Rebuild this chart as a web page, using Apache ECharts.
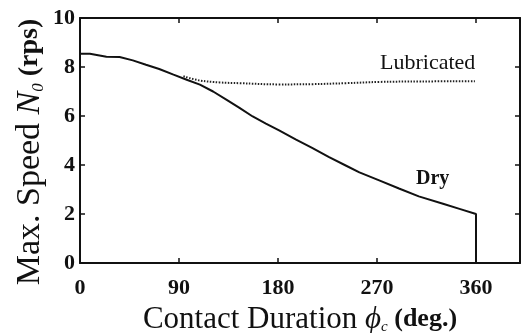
<!DOCTYPE html>
<html>
<head>
<meta charset="utf-8">
<script src="https://cdn.jsdelivr.net/npm/echarts@6/dist/echarts.min.js"></script>
<style>
  html, body { margin: 0; padding: 0; background: #fff; }
  #chart { width: 521px; height: 333px; }
</style>
</head>
<body>
<div id="chart"></div>
<script>
// contact duration (deg.) vs max speed (rps)
const dryX = [0, 9, 24, 36, 48, 60, 72, 85, 97, 109, 121, 133, 145, 157, 169, 181, 196, 211, 226, 242, 254, 272, 290, 308, 330, 345, 360, 360];
const dryY = [8.54, 8.54, 8.42, 8.41, 8.27, 8.09, 7.92, 7.69, 7.48, 7.28, 7.00, 6.67, 6.33, 5.98, 5.69, 5.41, 5.05, 4.70, 4.33, 3.97, 3.70, 3.37, 3.04, 2.72, 2.42, 2.21, 2.0, 0];
const lubX = [94, 109, 127, 145, 181, 211, 242, 272, 310, 359];
const lubY = [7.62, 7.45, 7.37, 7.34, 7.29, 7.30, 7.34, 7.39, 7.41, 7.42];
const xTicks = [0, 90, 180, 270, 360];
const yTicks = [0, 2, 4, 6, 8, 10];

const FONT = "'Liberation Serif', 'DejaVu Serif', serif";
const pair = (xs, ys) => xs.map((x, i) => [x, ys[i]]);

const chart = echarts.init(document.getElementById('chart'));

function tick() {
  return { show: true, inside: true, length: 5, lineStyle: { color: '#111', width: 1.5 } };
}
function axLine() {
  return { show: true, onZero: false, lineStyle: { color: '#111', width: 2 } };
}

chart.setOption({
  animation: false,
  grid: { left: 80, top: 18, width: 440, height: 245, outerBoundsMode: 'none' },
  xAxis: [
    {
      type: 'value', min: 0, max: 400, interval: 90,
      axisLine: axLine(),
      axisTick: tick(),
      splitLine: { show: false },
      axisLabel: {
        showMaxLabel: false, margin: 14,
        color: '#111', fontFamily: FONT, fontSize: 22, fontWeight: 'bold'
      },
      name: '{t|Contact Duration }{v|ϕ}{s|c}{u| (deg.)}',
      nameLocation: 'middle', nameGap: 34,
      nameTextStyle: {
        rich: {
          t: { fontFamily: FONT, fontSize: 31, color: '#111' },
          v: { fontFamily: FONT, fontSize: 31, fontStyle: 'italic', color: '#111' },
          s: { fontFamily: FONT, fontSize: 15, fontStyle: 'italic', color: '#111', verticalAlign: 'bottom', padding: [10, 0, 0, 0] },
          u: { fontFamily: FONT, fontSize: 26, fontWeight: 'bold', color: '#111' }
        }
      }
    },
    {
      type: 'value', min: 0, max: 400, interval: 90, position: 'top',
      axisLine: axLine(),
      axisTick: tick(),
      axisLabel: { show: false },
      splitLine: { show: false }
    }
  ],
  yAxis: [
    {
      type: 'value', min: 0, max: 10, interval: 2,
      axisLine: axLine(),
      axisTick: tick(),
      splitLine: { show: false },
      axisLabel: {
        margin: 5,
        color: '#111', fontFamily: FONT, fontSize: 22, fontWeight: 'bold'
      }
    },
    {
      type: 'value', min: 0, max: 10, interval: 2, position: 'right',
      axisLine: axLine(),
      axisTick: tick(),
      axisLabel: { show: false },
      splitLine: { show: false }
    }
  ],
  series: [
    {
      name: 'Dry', type: 'line', data: pair(dryX, dryY),
      showSymbol: false,
      lineStyle: { color: '#111', width: 2 }
    },
    {
      name: 'Lubricated', type: 'line', data: pair(lubX, lubY),
      smooth: 0.4, showSymbol: false,
      lineStyle: { color: '#222', width: 2, type: [1.5, 1.5] }
    }
  ],
  graphic: [
    {
      // y axis title, placed by hand so it sits a bit below the plot centre like the original
      type: 'text', x: 30, y: 152, rotation: Math.PI / 2,
      style: {
        text: '{t|Max. Speed }{v|N}{s|0}{u| (rps)}',
        align: 'center', verticalAlign: 'middle',
        rich: {
          t: { fontFamily: FONT, fontSize: 34, fill: '#111' },
          v: { fontFamily: FONT, fontSize: 34, fontStyle: 'italic', fill: '#111' },
          s: { fontFamily: FONT, fontSize: 17, fontStyle: 'italic', fill: '#111', verticalAlign: 'bottom', padding: [12, 0, 0, 0] },
          u: { fontFamily: FONT, fontSize: 28, fontWeight: 'bold', fill: '#111' }
        }
      }
    },
    {
      type: 'text', left: 380, top: 52,
      style: { text: 'Lubricated', fontFamily: FONT, fontSize: 22, fill: '#111' }
    },
    {
      type: 'text', left: 416, top: 169,
      style: { text: 'Dry', fontFamily: FONT, fontSize: 20, fontWeight: 'bold', fill: '#111' }
    }
  ]
});
</script>
</body>
</html>
